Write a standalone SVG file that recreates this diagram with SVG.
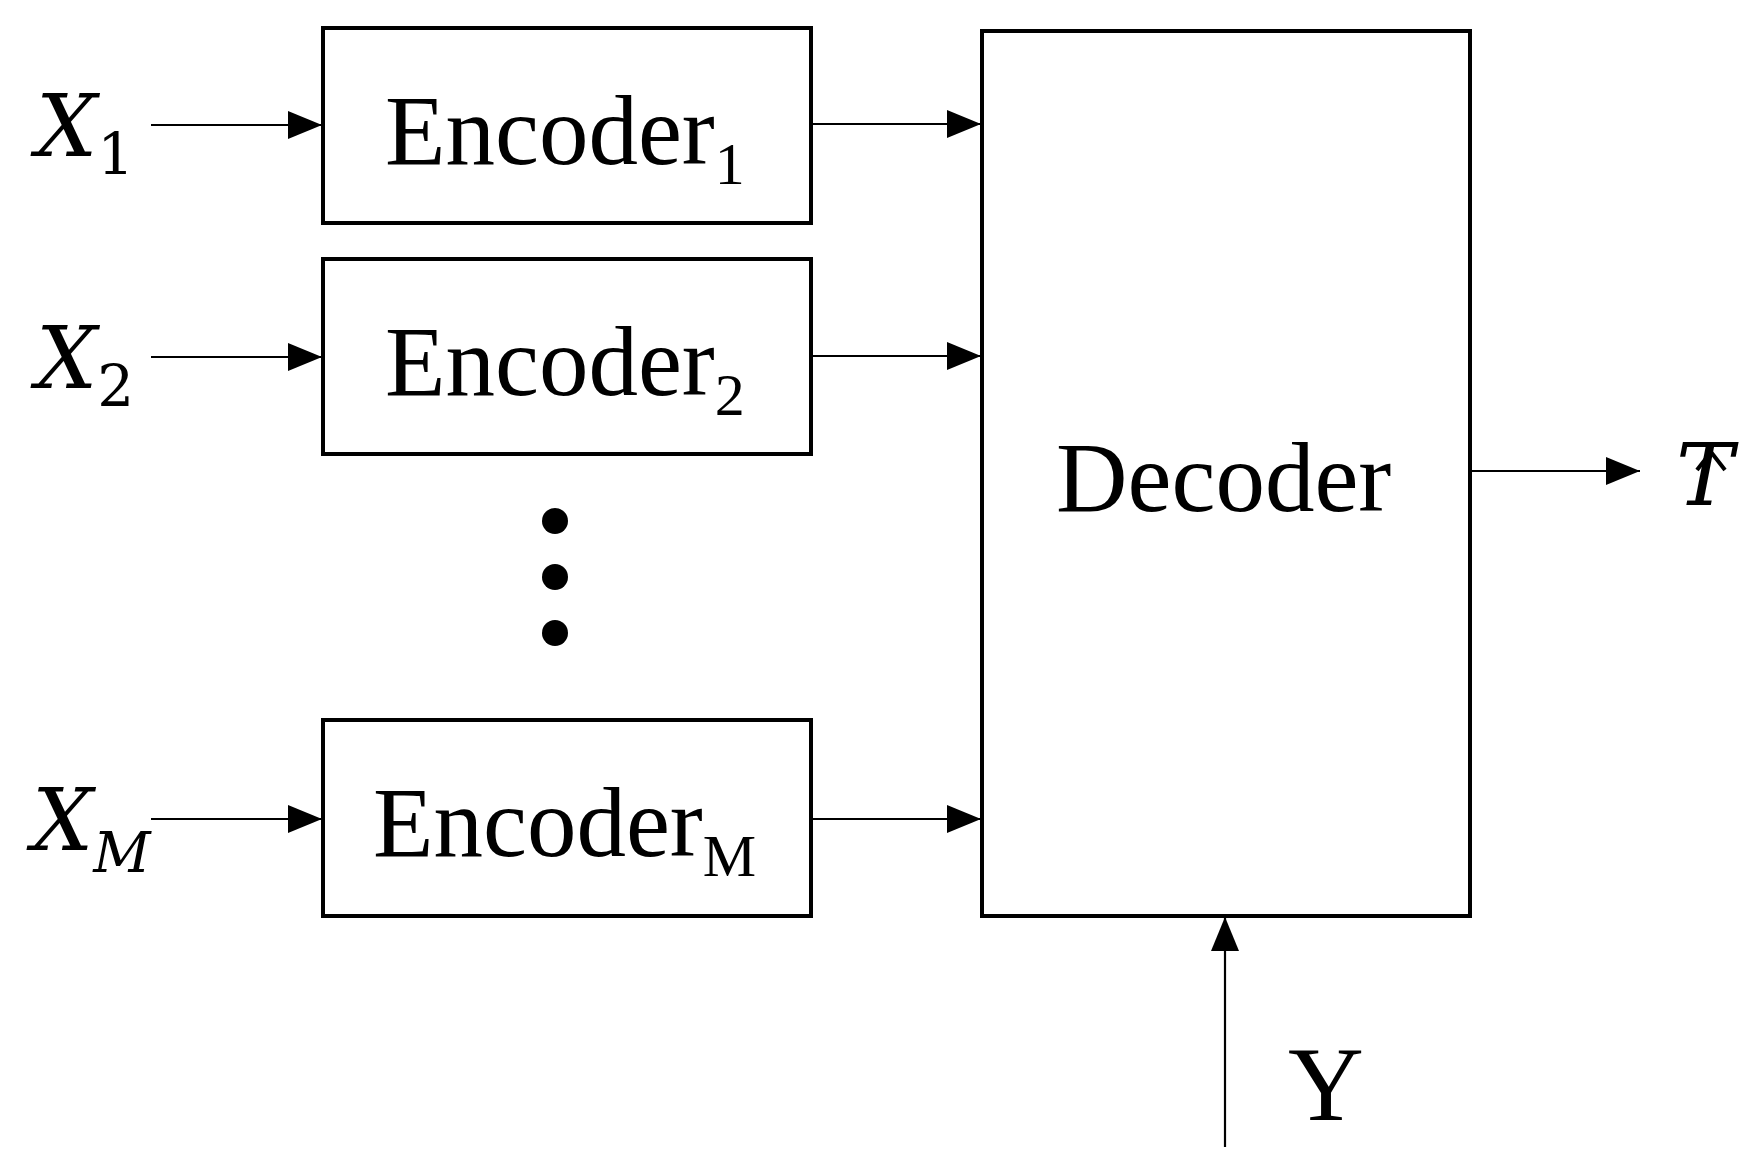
<svg xmlns="http://www.w3.org/2000/svg" width="1751" height="1170" viewBox="0 0 1751 1170">
<style>
.box{fill:#fff;stroke:#000;stroke-width:4}
.ln{stroke:#000;stroke-width:2.2;fill:none;marker-end:url(#ah)}
.t{font-family:"Liberation Serif",serif;fill:#000}
.m{font-family:"DejaVu Serif","Liberation Serif",serif;font-style:italic;fill:#000}
</style>
<defs><marker id="ah" markerWidth="34" markerHeight="28" refX="34" refY="14" orient="auto" markerUnits="userSpaceOnUse" viewBox="0 0 34 28"><path d="M0,0L34,14L0,28z" fill="#000"/></marker></defs>
<rect width="1751" height="1170" fill="#fff"/>
<g id="enc1"><rect class="box" x="323" y="28" width="488" height="195"/><text class="t" x="385" y="164" font-size="99">Encoder<tspan font-size="60" dy="20">1</tspan></text></g>
<g id="enc2"><rect class="box" x="323" y="259" width="488" height="195"/><text class="t" x="385" y="395" font-size="99">Encoder<tspan font-size="60" dy="20">2</tspan></text></g>
<g id="encM"><rect class="box" x="323" y="720" width="488" height="196"/><text class="t" x="373" y="856" font-size="99">Encoder<tspan font-size="60" dy="20">M</tspan></text></g>
<g id="dec"><rect class="box" x="982" y="31" width="488" height="885"/><text class="t" x="1056" y="511" font-size="99">Decoder</text></g>
<g id="dots"><circle cx="555" cy="521" r="13"/><circle cx="555" cy="577" r="13"/><circle cx="555" cy="633" r="13"/></g>
<g id="labels">
<text class="m" x="36" y="156" font-size="86">X<tspan font-style="normal" font-size="58" dy="18">1</tspan></text>
<text class="m" x="36" y="388" font-size="86">X<tspan font-style="normal" font-size="58" dy="18">2</tspan></text>
<text class="m" x="32" y="850" font-size="86">X<tspan font-size="56" dy="22">M</tspan></text>
<text class="m" x="1676" y="505" font-size="86">T</text>
<polyline points="1697,470 1711,452 1725,470" fill="none" stroke="#000" stroke-width="4"/>
<text class="t" x="1288" y="1120" font-size="105">Y</text>
</g>
<g id="connectors">
<line class="ln" x1="151" y1="125" x2="322" y2="125"/>
<line class="ln" x1="151" y1="357" x2="322" y2="357"/>
<line class="ln" x1="151" y1="819" x2="322" y2="819"/>
<line class="ln" x1="811" y1="124" x2="981" y2="124"/>
<line class="ln" x1="811" y1="356" x2="981" y2="356"/>
<line class="ln" x1="811" y1="819" x2="981" y2="819"/>
<line class="ln" x1="1470" y1="471" x2="1640" y2="471"/>
<line class="ln" x1="1225" y1="1147" x2="1225" y2="917"/>
</g>
</svg>
